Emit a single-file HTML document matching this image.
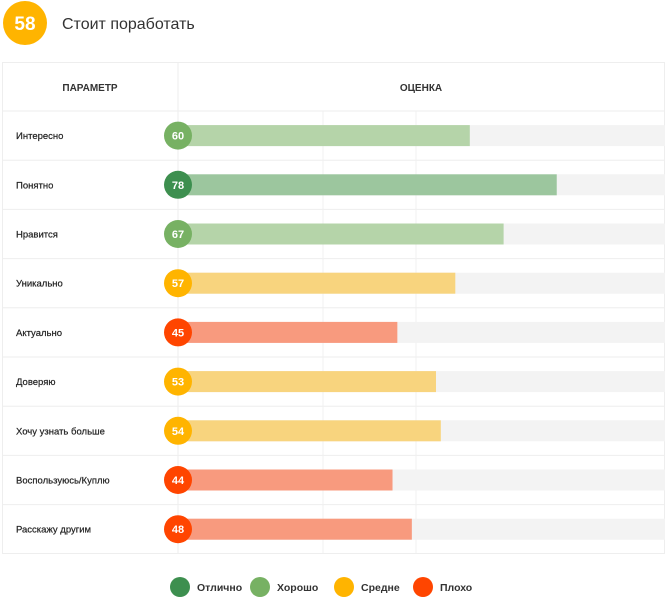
<!DOCTYPE html>
<html><head><meta charset="utf-8"><style>
body{margin:0;background:#fff;font-family:"Liberation Sans",sans-serif;}
svg text{font-family:"Liberation Sans",sans-serif;}
</style></head><body>
<svg width="667" height="600">
<circle cx="25" cy="23" r="22" fill="#ffb400"/>
<text x="25" y="30" text-anchor="middle" fill="#fff" font-size="19" font-weight="bold">58</text>
<text x="62" y="29" fill="#333" font-size="16">Стоит поработать</text>
<rect x="2.5" y="62.5" width="662" height="491" fill="none" stroke="#eee"/>
<line x1="178" y1="62" x2="178" y2="553" stroke="#eee"/>
<text x="90" y="91" text-anchor="middle" font-size="10" font-weight="bold" fill="#333">ПАРАМЕТР</text>
<text x="421" y="91" text-anchor="middle" font-size="10" font-weight="bold" fill="#333">ОЦЕНКА</text>
<g id="rows"></g>
<g id="legend"></g>
</svg>
<script>
const categories=["Интересно","Понятно","Нравится","Уникально","Актуально","Доверяю","Хочу узнать больше","Воспользуюсь/Куплю","Расскажу другим"];
const values=[60,78,67,57,45,53,54,44,48];
const legendLabels=["Отлично","Хорошо","Средне","Плохо"];
const NS="http://www.w3.org/2000/svg";
const x=v=>180+v*4.83;
function level(v){return v>=70?0:v>=60?1:v>=50?2:3;}
const dark=["#3d8f4f","#77b163","#ffb400","#ff4500"];
const light=["#9cc69e","#b5d4a9","#f8d47e","#f89a7e"];
const g=document.getElementById('rows');
function mk(t,a,p){const e=document.createElementNS(NS,t);for(const k in a)e.setAttribute(k,a[k]);(p||g).appendChild(e);return e;}
categories.forEach((c,i)=>{
 const top=111+i*49.2, cy=top+24.6;
 mk('line',{x1:2,x2:665,y1:top,y2:top,stroke:'#eee'});
 mk('line',{x1:323,x2:323,y1:top,y2:top+49,stroke:'#f0f0f0'});
 mk('line',{x1:416,x2:416,y1:top,y2:top+49,stroke:'#f0f0f0'});
 const lb=mk('text',{x:16,y:cy+3.5,'font-size':9.5,fill:'#222',stroke:'#222','stroke-width':0.2});lb.textContent=c;
 
 
 const tr=mk('rect',{x:180,y:cy-10.5,width:485,height:21,fill:'#f3f3f3'});
 
 
 const L=level(values[i]);
 const b=mk('rect',{x:180,y:cy-10.5,width:x(values[i])-180,height:21,fill:light[L]});
 
 
 const ci=mk('circle',{cx:178,cy:cy,r:14,fill:dark[L]});
 
 
 const t=mk('text',{x:178,y:cy+4,'text-anchor':'middle','font-size':11,'font-weight':'bold',fill:'#fff'});t.textContent=values[i];
 
 
});
const lg=document.getElementById('legend');
const lx=[180,260,344,423];
legendLabels.forEach((l,i)=>{
 const c=mk('circle',{cx:lx[i],cy:587,r:10,fill:dark[i]},lg);
 
 
 const t=mk('text',{x:lx[i]+17,y:591,'font-size':10.5,'font-weight':'bold',fill:'#333'},lg);t.textContent=l;
 
 
});
</script>
</body></html>
